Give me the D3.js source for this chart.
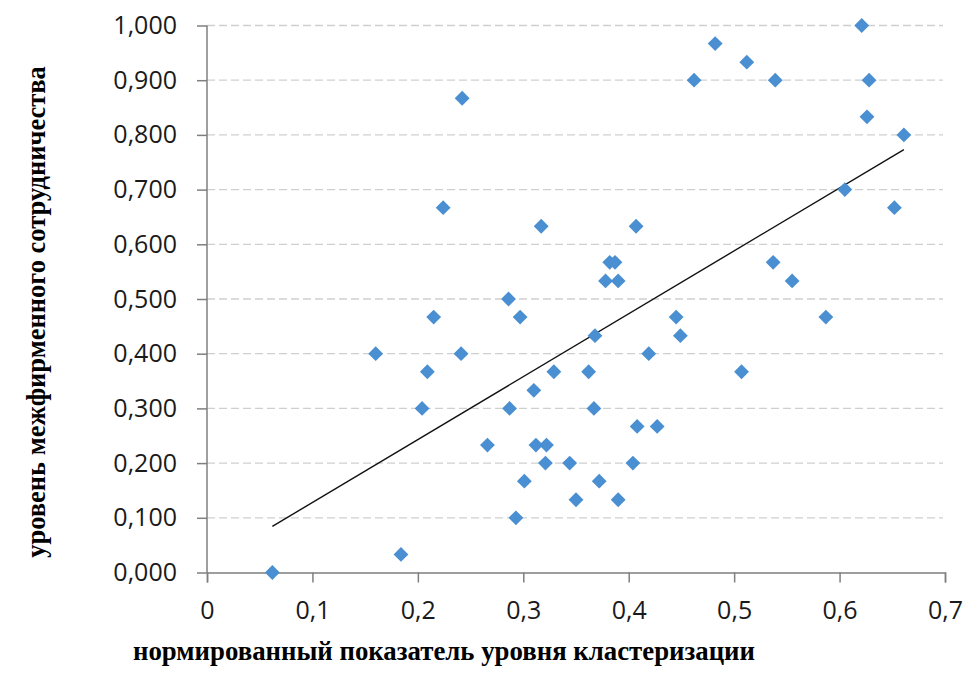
<!DOCTYPE html>
<html>
<head>
<meta charset="utf-8">
<script src="https://cdn.jsdelivr.net/npm/d3@7"></script>
<style>
  body { margin: 0; background: #fff; }
</style>
</head>
<body>
<svg id="graphique" width="966" height="677"></svg>
<script>
// valeurs (x = niveau de clusterisation, y = coopération inter-firmes)
var xVals = [0.062, 0.184, 0.160, 0.204, 0.209, 0.215, 0.224, 0.241, 0.242, 0.266,
             0.286, 0.297, 0.287, 0.310, 0.301, 0.293, 0.312, 0.322, 0.321, 0.317,
             0.329, 0.344, 0.350, 0.362, 0.367, 0.368, 0.372, 0.378, 0.382, 0.387,
             0.390, 0.390, 0.404, 0.407, 0.408, 0.419, 0.427, 0.445, 0.449, 0.462,
             0.482, 0.507, 0.512, 0.537, 0.539, 0.555, 0.587, 0.605, 0.621, 0.626,
             0.628, 0.652, 0.661];
var yVals = [0.000, 0.033, 0.400, 0.300, 0.367, 0.467, 0.667, 0.400, 0.867, 0.233,
             0.500, 0.467, 0.300, 0.333, 0.167, 0.100, 0.233, 0.233, 0.200, 0.633,
             0.367, 0.200, 0.133, 0.367, 0.300, 0.433, 0.167, 0.533, 0.567, 0.567,
             0.533, 0.133, 0.200, 0.633, 0.267, 0.400, 0.267, 0.467, 0.433, 0.900,
             0.967, 0.367, 0.933, 0.567, 0.900, 0.533, 0.467, 0.700, 1.000, 0.833,
             0.900, 0.667, 0.800];
// droite de tendance : y = pente * x + origine
var tendance = [1.150, 0.013];
var xTicks = [0, 0.1, 0.2, 0.3, 0.4, 0.5, 0.6, 0.7];
var yTicks = [0, 0.1, 0.2, 0.3, 0.4, 0.5, 0.6, 0.7, 0.8, 0.9, 1.0];
var titreX = "нормированный показатель уровня кластеризации";
var titreY = "уровень межфирменного сотрудничества";

var svg = d3.select("#graphique");
var gauche = 207, droite = 945, haut = 25.5, bas = 572.5;

var x = d3.scaleLinear().domain([0, 0.7]).range([gauche, droite]);
var y = d3.scaleLinear().domain([0, 1]).range([bas, haut]);

var virgule = function(n, dec){ return d3.format("." + dec + "f")(n).replace(".", ","); };

//-------------------grille horizontale en pointillés----------------------------------------
svg.append("g")
    .selectAll("line")
    .data(yTicks.filter(function(t){ return t > 0; }))
    .enter().append("line")
    .attr("x1", gauche).attr("x2", droite - 2)
    .attr("y1", function(d){ return y(d); })
    .attr("y2", function(d){ return y(d); })
    .attr("stroke", "#cfcfcf")
    .attr("stroke-width", 1.3)
    .attr("stroke-dasharray", "8,4");

//-------------------axes----------------------------------------
var axeY = svg.append("g")
    .attr("transform", "translate(" + gauche + ",0)")
    .call(d3.axisLeft(y).tickValues(yTicks).tickSize(10).tickPadding(20)
        .tickFormat(function(d){ return virgule(d, 3); }));
var axeX = svg.append("g")
    .attr("transform", "translate(0," + bas + ")")
    .call(d3.axisBottom(x).tickValues(xTicks).tickSizeInner(10).tickSizeOuter(10).tickPadding(19)
        .tickFormat(function(d){ return d === 0 ? "0" : virgule(d, 1); }));

[axeX, axeY].forEach(function(a){
    a.select(".domain").attr("stroke", "#7f7f7f").attr("stroke-width", 1.5);
    a.selectAll(".tick line").attr("stroke", "#7f7f7f").attr("stroke-width", 1.5);
    a.selectAll(".tick text")
        .attr("fill", "#1a1a1a")
        .style("font-family", "'Open Sans', sans-serif")
        .style("font-size", "25px");
});
axeY.select(".domain").attr("d", "M0," + bas + "V" + haut);

//-------------------droite de tendance----------------------------------------
var xMin = d3.min(xVals), xMax = d3.max(xVals);
svg.append("line")
    .attr("x1", x(xMin)).attr("y1", y(tendance[0] * xMin + tendance[1]))
    .attr("x2", x(xMax)).attr("y2", y(tendance[0] * xMax + tendance[1]))
    .attr("stroke", "#111")
    .attr("stroke-width", 1.4);

//-------------------points en losange----------------------------------------
var losange = d3.symbol().type(d3.symbolSquare).size(110);
svg.append("g")
    .selectAll("path")
    .data(xVals.map(function(v, i){ return [v, yVals[i]]; }))
    .enter().append("path")
    .attr("d", losange)
    .attr("transform", function(d){ return "translate(" + x(d[0]) + "," + y(d[1]) + ") rotate(45)"; })
    .attr("fill", "#4a8fd1");

//-------------------titres des axes----------------------------------------
svg.append("text")
    .attr("x", 444).attr("y", 660)
    .attr("text-anchor", "middle")
    .style("font-family", "'Liberation Serif', 'Times New Roman', serif")
    .style("font-weight", "bold")
    .style("font-size", "26.8px")
    .text(titreX);

svg.append("text")
    .attr("transform", "translate(45,312) rotate(-90)")
    .attr("text-anchor", "middle")
    .style("font-family", "'Liberation Serif', 'Times New Roman', serif")
    .style("font-weight", "bold")
    .style("font-size", "26.5px")
    .text(titreY);
</script>
</body>
</html>
